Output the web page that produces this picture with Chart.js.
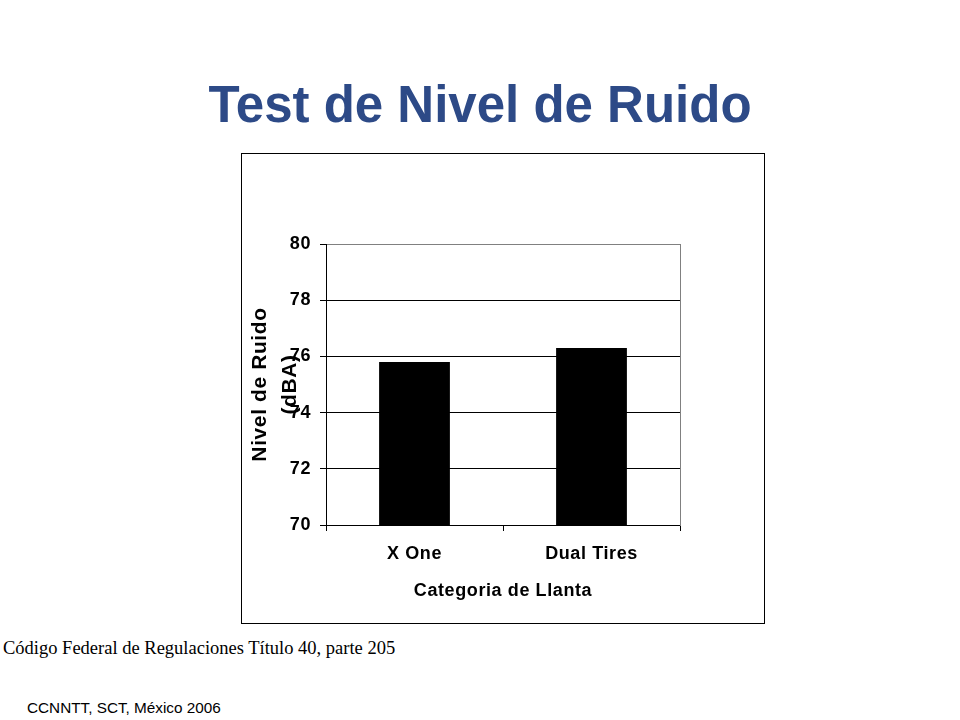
<!DOCTYPE html>
<html>
<head>
<meta charset="utf-8">
<script src="https://cdn.jsdelivr.net/npm/chart.js@4"></script>
<style>
  html, body { margin:0; padding:0; background:#fff; width:960px; height:720px; overflow:hidden; }
  #title { position:absolute; left:0; top:79px; width:960px; text-align:center;
    font:bold 51px "Liberation Sans", Arial, sans-serif; line-height:51px; color:#2D4A87; }
  #box { position:absolute; left:241px; top:153px; width:524px; height:471px; box-sizing:border-box; border:1px solid #000; }
  #chart { position:absolute; left:0; top:0; }
  #note1 { position:absolute; left:3px; top:639px; font:18.5px "Liberation Serif", "Times New Roman", serif; line-height:18px; color:#000; white-space:nowrap; }
  #note2 { position:absolute; left:27px; top:700px; font:15.3px "Liberation Sans", Arial, sans-serif; line-height:15px; color:#000; white-space:nowrap; }
</style>
</head>
<body>
<div id="title">Test de Nivel de Ruido</div>
<div id="box"><canvas id="chart" width="522" height="469"></canvas></div>
<div id="note1">Código Federal de Regulaciones Título 40, parte 205</div>
<div id="note2">CCNNTT, SCT, México 2006</div>
<script>
const categories = ['X One', 'Dual Tires'];
const noiseLevels = [75.8, 76.3];
const yTitleLines = ['Nivel de Ruido', '(dBA)'];
const xTitle = 'Categoria de Llanta';
const yMin = 70, yMax = 80, yStep = 2;

const FONT = '"Liberation Sans", Arial, sans-serif';

const spacingPlugin = {
  id: 'spacing',
  beforeDraw(chart) { chart.ctx.letterSpacing = '0.6px'; }
};

new Chart(document.getElementById('chart'), {
  type: 'bar',
  data: {
    labels: categories,
    datasets: [{
      data: noiseLevels,
      backgroundColor: '#000',
      borderWidth: 0,
      barPercentage: 0.4,
      categoryPercentage: 1.0
    }]
  },
  options: {
    responsive: false,
    animation: false,
    devicePixelRatio: 1,
    layout: { padding: { top: 90, right: 84, bottom: 0, left: 0 } },
    plugins: { legend: { display: false }, tooltip: { enabled: false } },
    scales: {
      x: {
        offset: true,
        grid: { display: true, drawOnChartArea: false, offset: true, tickLength: 6, color: '#000', lineWidth: 1 },
        border: { display: true, color: '#000', width: 1 },
        ticks: { color: '#000', font: { family: FONT, size: 18, weight: 'bold' }, padding: 12, maxRotation: 0 },
        title: { display: true, text: xTitle, color: '#000', font: { family: FONT, size: 18, weight: 'bold' }, padding: { top: 0, bottom: 21 } },
        afterFit(scale) { scale.height = 98; }
      },
      y: {
        min: yMin, max: yMax,
        grid: {
          drawOnChartArea: true, tickLength: 6, lineWidth: 1,
          color: (c) => (c.tick && c.tick.value === yMax) ? '#808080' : '#000',
          tickColor: '#000'
        },
        border: { display: true, color: '#000', width: 1 },
        ticks: { stepSize: yStep, color: '#000', font: { family: FONT, size: 18, weight: 'bold' }, padding: 9 },
        title: { display: true, text: yTitleLines, color: '#000', font: { family: FONT, size: 21, weight: 'bold', lineHeight: 1.43 }, padding: { top: 3, bottom: 0 } },
        afterFit(scale) { scale.width = 84; }
      },
      yRight: {
        position: 'right',
        min: yMin, max: yMax,
        grid: { drawOnChartArea: false, drawTicks: false },
        border: { display: true, color: '#808080', width: 1 },
        ticks: { display: false },
        afterFit(scale) { scale.width = 0; }
      }
    }
  },
  plugins: [spacingPlugin]
});
</script>
</body>
</html>
